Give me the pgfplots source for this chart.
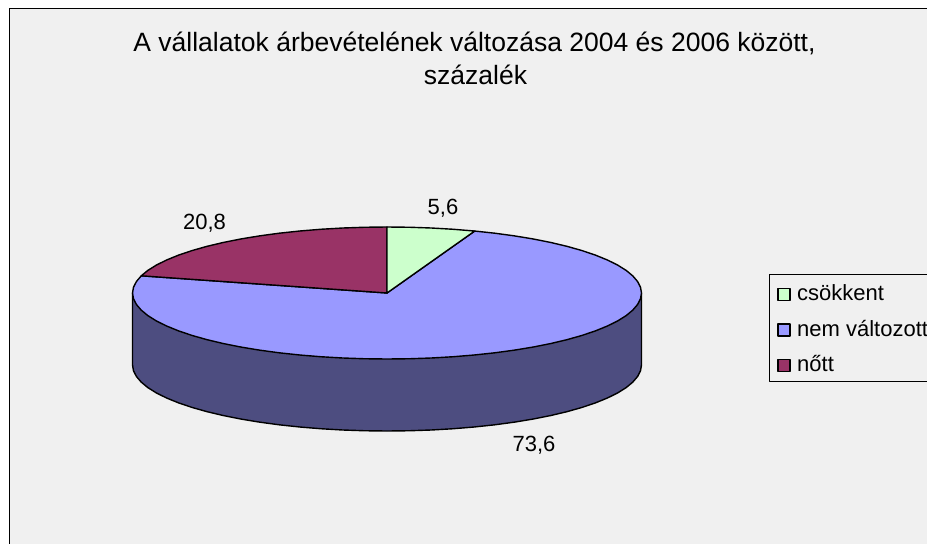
\documentclass[border=0pt]{standalone}
\usepackage{pgfplots}
\pgfplotsset{compat=1.18}
\usepackage{fontspec}
\setmainfont{Liberation Sans}
\definecolor{bgc}{HTML}{F0F0F0}
\definecolor{green1}{HTML}{CCFFCC}
\definecolor{blue1}{HTML}{9999FF}
\definecolor{red1}{HTML}{993366}
\definecolor{side1}{HTML}{4D4D80}
\begin{document}
\begin{tikzpicture}
\useasboundingbox (0,0) rectangle (927bp,544bp);
\begin{axis}[
  at={(0,0)}, anchor=south west,
  scale only axis, width=927bp, height=544bp,
  xmin=0, xmax=927, ymin=0, ymax=544, y dir=reverse,
  hide axis, clip=true,
  every axis plot/.append style={line width=1.4bp, line join=round},
]
% background and frame
\addplot[fill=bgc, draw=none, forget plot] coordinates {(9,9)(940,9)(940,560)(9,560)} --cycle;
\addplot[draw=black, line width=1bp, forget plot] coordinates {(9,560)(9,9)(940,9)};
% side of the disc
\addplot[fill=side1, draw=black, forget plot] coordinates {
(641.5,293)(641.5,365)(640.5,370.75)(637.6,376.46)(632.8,382.08)(626.2,387.57)(617.7,392.89)(607.4,398)(595.5,402.86)(582,407.42)(567,411.67)(550.6,415.56)(533,419.06)(514.25,422.16)(494.6,424.82)(474,427.02)(452.9,428.75)(431.2,430)(409.2,430.75)(387,431)
(364.8,430.75)(342.8,430)(321.1,428.75)(300,427.02)(279.4,424.82)(259.75,422.16)(241,419.06)(223.4,415.56)(207,411.67)(192,407.42)(178.5,402.86)(166.6,398)(156.3,392.89)(147.8,387.57)(141.2,382.08)(136.4,376.46)(133.5,370.75)(132.5,365)(132.5,293)} --cycle;
% nem valtozott 73,6
\addplot[fill=blue1, draw=black, forget plot] coordinates {
(387,293)(474.7,231.04)(494.6,233.18)(514.25,235.84)(533,238.94)(550.6,242.44)(567,246.33)(582,250.58)(595.5,255.14)(607.4,260)(617.7,265.11)(626.2,270.43)(632.8,275.92)(637.6,281.54)(640.5,287.25)(641.5,293)
(640.5,298.75)(637.6,304.46)(632.8,310.08)(626.2,315.57)(617.7,320.89)(607.4,326)(595.5,330.86)(582,335.42)(567,339.67)(550.6,343.56)(533,347.06)(514.25,350.16)(494.6,352.82)(474,355.02)(452.9,356.75)(431.2,358)(409.2,358.75)(387,359)
(364.8,358.75)(342.8,358)(321.1,356.75)(300,355.02)(279.4,352.82)(259.75,350.16)(241,347.06)(223.4,343.56)(207,339.67)(192,335.42)(178.5,330.86)(166.6,326)(156.3,320.89)(147.8,315.57)(141.2,310.08)(136.4,304.46)(133.5,298.75)(132.5,293)(133.5,287.25)(136.4,281.54)(141.3,275.8)} --cycle;
% nott 20,8
\addplot[fill=red1, draw=black, forget plot] coordinates {
(387,293)(141.3,275.8)(147.8,270.43)(156.3,265.11)(166.6,260)(178.5,255.14)(192,250.58)(207,246.33)(223.4,242.44)(241,238.94)(259.75,235.84)(279.4,233.18)(300,230.98)(321.1,229.25)(342.8,228)(364.8,227.25)(387,227)} --cycle;
% csokkent 5,6
\addplot[fill=green1, draw=black, forget plot] coordinates {
(387,293)(387,227)(409.2,227.25)(431.2,228)(452.9,229.25)(474.7,231.04)} --cycle;
% legend
\addplot[draw=black, line width=1bp, fill=bgc, forget plot] coordinates {(940,274.7)(769.5,274.7)(769.5,381.7)(940,381.7)};
\addplot[fill=green1, draw=black, forget plot] coordinates {(778,288.5)(790,288.5)(790,300.5)(778,300.5)} --cycle;
\addplot[fill=blue1, draw=black, forget plot] coordinates {(778,324)(790,324)(790,336)(778,336)} --cycle;
\addplot[fill=red1, draw=black, forget plot] coordinates {(778,359.5)(790,359.5)(790,371.5)(778,371.5)} --cycle;
\tikzset{lab/.style={inner sep=0pt, font=\fontsize{22bp}{24bp}\selectfont, text=black}}
\node[lab, anchor=base west] at (axis cs:797,300) {csökkent};
\node[lab, anchor=base west] at (axis cs:797,336) {nem változott};
\node[lab, anchor=base west] at (axis cs:797,371) {nőtt};
\node[lab, anchor=base] at (axis cs:204.5,229) {20,8};
\node[lab, anchor=base] at (axis cs:443,214) {5,6};
\node[lab, anchor=base] at (axis cs:534,451) {73,6};
\tikzset{ttl/.style={inner sep=0pt, font=\fontsize{26.5bp}{30bp}\selectfont, text=black}}
\node[ttl, anchor=base] at (axis cs:474.5,52) {A vállalatok árbevételének változása 2004 és 2006 között,};
\node[ttl, anchor=base] at (axis cs:475.5,85) {százalék};
\end{axis}
\end{tikzpicture}
\end{document}
